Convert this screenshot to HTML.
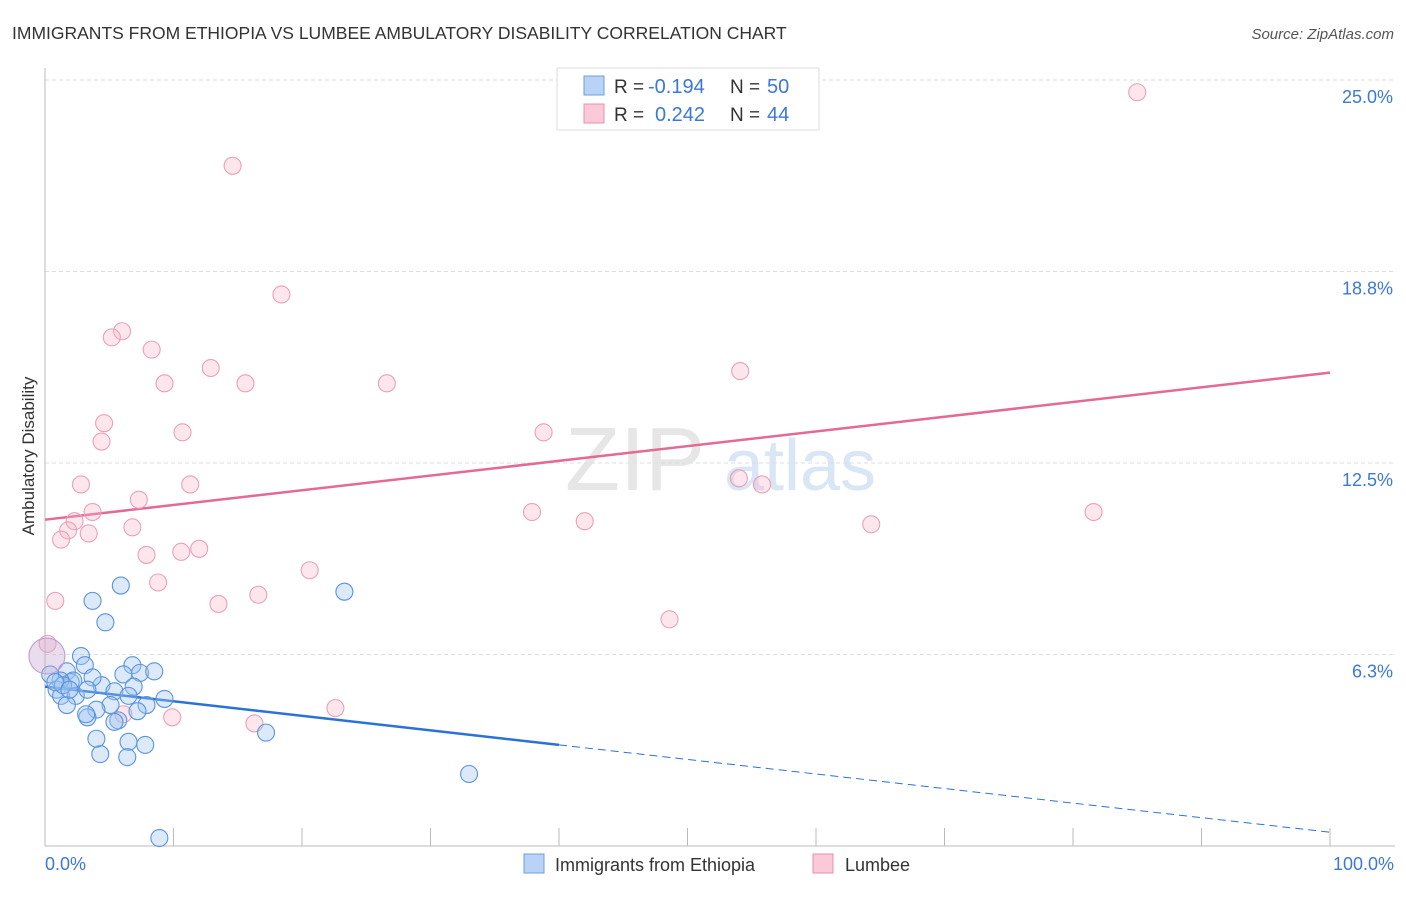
<!DOCTYPE html>
<html><head><meta charset="utf-8"><style>
body{margin:0;background:#fff;font-family:"Liberation Sans",sans-serif;}
svg text{font-family:"Liberation Sans",sans-serif;}
</style></head><body>
<svg width="1406" height="892" xmlns="http://www.w3.org/2000/svg">
<text x="12" y="39" font-size="17.5" fill="#333">IMMIGRANTS FROM ETHIOPIA VS LUMBEE AMBULATORY DISABILITY CORRELATION CHART</text>
<text x="1394" y="39" font-size="15" fill="#555" font-style="italic" text-anchor="end">Source: ZipAtlas.com</text>
<g><text x="635" y="490" font-size="90" fill="#e6e6e6" text-anchor="middle" font-family="Liberation Serif">ZIP</text><text x="800" y="490" font-size="72" fill="#d8e6f5" text-anchor="middle">atlas</text></g>
<g id="grid"></g>
<g id="axes"></g>
<g id="trends"></g>
<g id="pts"></g>
<text transform="translate(34,456) rotate(-90)" font-size="17" fill="#333" text-anchor="middle">Ambulatory Disability</text>
<text x="45" y="870" font-size="18" fill="#3b78d8">0.0%</text>
<text x="1394" y="870" font-size="18" fill="#3b78d8" text-anchor="end">100.0%</text>
<g>
<rect x="557" y="68" width="262" height="62" fill="#fff" stroke="#ddd"/>
<rect x="584" y="76" width="20" height="19" fill="#b8d3f5" stroke="#6a9fe0"/>
<rect x="584" y="104" width="20" height="19" fill="#fbc9d8" stroke="#e890a8"/>
<text x="614" y="93" font-size="19" fill="#333">R =</text>
<text x="648" y="93" font-size="20" fill="#3b78d8">-0.194</text>
<text x="730" y="93" font-size="19" fill="#333">N =</text>
<text x="767" y="93" font-size="20" fill="#3b78d8">50</text>
<text x="614" y="121" font-size="19" fill="#333">R =</text>
<text x="655" y="121" font-size="20" fill="#3b78d8">0.242</text>
<text x="730" y="121" font-size="19" fill="#333">N =</text>
<text x="767" y="121" font-size="20" fill="#3b78d8">44</text>
</g>
<g>
<rect x="524" y="854" width="20" height="19" fill="#b8d3f5" stroke="#6a9fe0"/>
<text x="555" y="871" font-size="18" fill="#333">Immigrants from Ethiopia</text>
<rect x="813" y="854" width="20" height="19" fill="#fbc9d8" stroke="#e890a8"/>
<text x="845" y="871" font-size="18" fill="#333">Lumbee</text>
</g>
</svg>
<script>
const yTicks=[6.25,12.5,18.75,25];
const yTickLabels=["6.3%","12.5%","18.8%","25.0%"];
const xTicks=[10,20,30,40,50,60,70,80,90,100];
const pinkX=[85.0,14.6,18.4,6.0,5.2,8.3,12.9,9.3,15.6,26.6,54.1,4.6,10.7,4.4,38.8,2.8,11.3,7.3,3.7,2.3,1.8,1.25,3.4,6.8,37.9,42.0,64.3,81.6,54.0,55.8,7.9,10.6,12.0,20.6,8.8,0.8,13.5,16.6,48.6,0.2,22.6,16.3,9.9,6.1];
const pinkY=[24.6,22.2,18.0,16.8,16.6,16.2,15.6,15.1,15.1,15.1,15.5,13.8,13.5,13.2,13.5,11.8,11.8,11.3,10.9,10.6,10.3,10.0,10.2,10.4,10.9,10.6,10.5,10.9,12.0,11.8,9.5,9.6,9.7,9.0,8.6,8.0,7.9,8.2,7.4,6.6,4.5,4.0,4.2,4.3];
const blueX=[5.9,3.7,4.7,23.3,33.0,8.9,17.2,2.8,3.1,1.7,2.0,6.8,7.4,8.5,6.1,6.9,4.4,3.7,2.2,1.2,0.9,1.25,2.4,3.3,5.4,6.5,9.3,7.9,5.1,4.0,7.2,3.3,5.7,7.8,6.5,4.3,6.4,4.0,3.2,1.4,0.4,0.8,1.7,1.9,5.4];
const blueY=[8.5,8.0,7.3,8.3,2.35,0.26,3.7,6.2,5.9,5.7,5.35,5.9,5.65,5.7,5.6,5.2,5.25,5.5,5.4,5.4,5.1,4.9,4.9,5.1,5.05,4.9,4.8,4.6,4.6,4.45,4.4,4.2,4.1,3.3,3.4,3.0,2.9,3.5,4.3,5.25,5.6,5.35,4.6,5.1,4.05];
const blueTrend=[5.2,0.45]; const blueSolidEnd=40;
const pinkTrend=[10.65,15.45];
const NS="http://www.w3.org/2000/svg";
const X=p=>45+12.85*p, Y=v=>846-v*30.64;
function mk(t,a,parent){const e=document.createElementNS(NS,t);for(const k in a)e.setAttribute(k,a[k]);parent.appendChild(e);return e;}
const grid=document.getElementById('grid'),axes=document.getElementById('axes'),tr=document.getElementById('trends'),pts=document.getElementById('pts');
yTicks.forEach((v,i)=>{
 const l=mk('line',{x1:45,x2:1395,y1:Y(v),y2:Y(v),stroke:'#ddd','stroke-dasharray':'4,3'},grid);
 
 
 const t=mk('text',{x:1393,y:Y(v)+23,'font-size':18,fill:'#3b78d8','text-anchor':'end'},grid);
 t.textContent=yTickLabels[i];
 
 
});
mk('line',{x1:45,x2:45,y1:68,y2:846,stroke:'#bbb'},axes);
mk('line',{x1:45,x2:1395,y1:846,y2:846,stroke:'#bbb'},axes);
xTicks.forEach(v=>{
 const l=mk('line',{x1:X(v),x2:X(v),y1:828,y2:846,stroke:'#bbb'},axes);
 
 
});
const bm=blueTrend[0]+(blueTrend[1]-blueTrend[0])*blueSolidEnd/100;
let l1=mk('line',{x1:X(0),y1:Y(blueTrend[0]),x2:X(blueSolidEnd),y2:Y(bm),stroke:'#2a72d8','stroke-width':2.5},tr);


let l2=mk('line',{x1:X(blueSolidEnd),y1:Y(bm),x2:X(100),y2:Y(blueTrend[1]),stroke:'#2a72d8','stroke-width':1,'stroke-dasharray':'8,5'},tr);


let l3=mk('line',{x1:X(0),y1:Y(pinkTrend[0]),x2:X(100),y2:Y(pinkTrend[1]),stroke:'#e46a95','stroke-width':2.5},tr);


pinkX.forEach((x,i)=>{
 const c=mk('circle',{cx:X(x),cy:Y(pinkY[i]),r:8.5,fill:'rgba(248,180,200,0.32)',stroke:'#eba0b8','stroke-width':1.1},pts);
 
 
});
blueX.forEach((x,i)=>{
 const c=mk('circle',{cx:X(x),cy:Y(blueY[i]),r:8.5,fill:'rgba(160,196,240,0.38)',stroke:'#5a93e0','stroke-width':1.1},pts);
 
 
});
const big=mk('circle',{cx:X(0.15),cy:Y(6.2),r:18,fill:'rgba(200,170,210,0.4)',stroke:'#b9a0d0','stroke-width':1.1},pts);


</script>
</body></html>
